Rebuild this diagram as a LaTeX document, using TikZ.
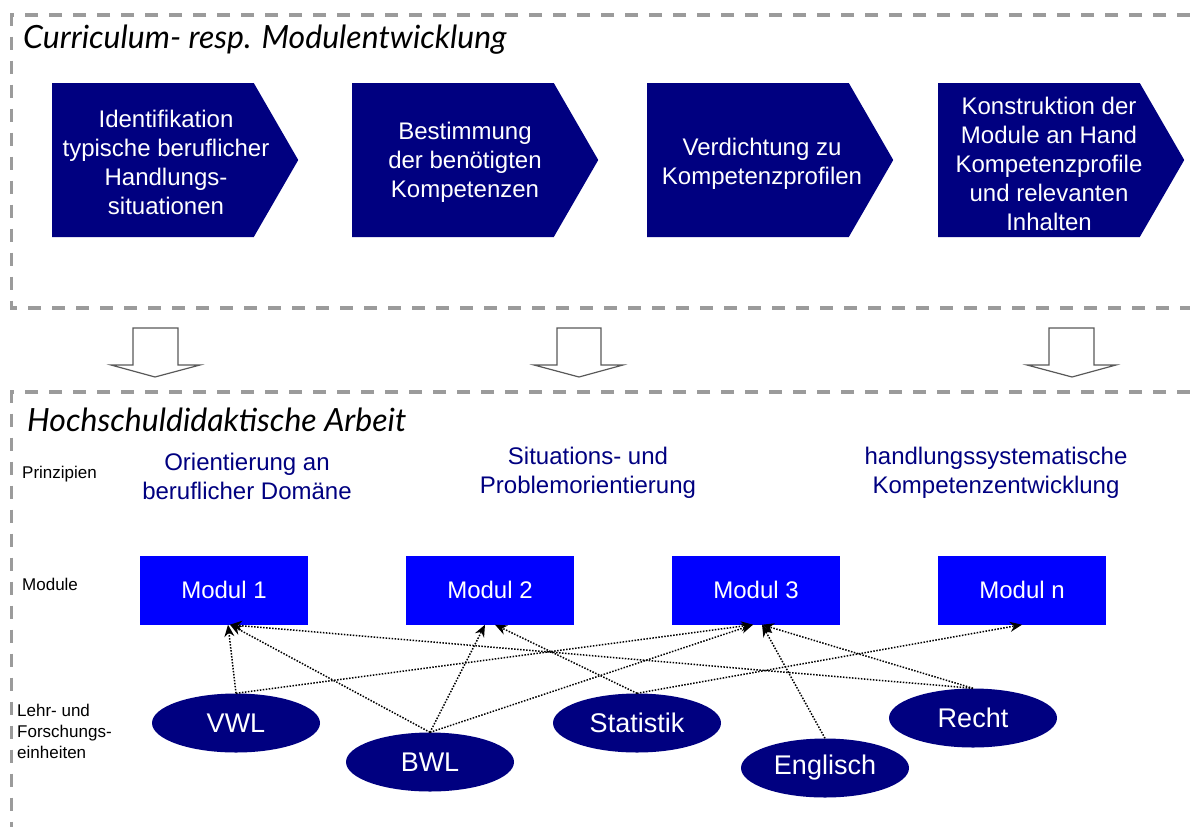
\documentclass[tikz,border=0pt]{standalone}
\usepackage{fontspec}
\setmainfont{Liberation Sans}
\newfontfamily\handfont{Lato}
\usepackage{tikz}
\usetikzlibrary{arrows.meta, shapes.symbols, shapes.geometric, positioning}
\definecolor{navy}{RGB}{0,0,128}
\definecolor{modblue}{RGB}{0,0,255}
\definecolor{framegray}{RGB}{155,155,155}
\tikzset{>={Stealth[length=12pt,width=10pt]}}

\begin{document}
\begin{tikzpicture}[x=1pt, y=-1pt,
    stepbox/.style={signal, signal to=east, signal pointer angle=120, fill=navy,
        minimum width=246pt, minimum height=154pt, inner sep=0pt},
    steptext/.style={text=white, align=center, inner sep=0pt, font=\fontsize{24}{29}\selectfont},
    modbox/.style={rectangle, fill=modblue, text=white, minimum width=168pt, minimum height=69pt,
        font=\fontsize{24}{29}\selectfont},
    fach/.style={ellipse, fill=navy, text=white, minimum width=168pt, minimum height=59pt, inner sep=0pt,
        font=\fontsize{27}{32}\selectfont},
    prinzip/.style={text=navy, align=center, font=\fontsize{24}{29}\selectfont},
    rowlabel/.style={anchor=west, align=left, inner sep=0pt, font=\fontsize{17}{21}\selectfont},
    headline/.style={anchor=west, inner sep=0pt, font=\handfont\itshape\fontsize{32}{36}\selectfont},
    dashframe/.style={draw=framegray, line width=3.3pt, dash pattern=on 13pt off 11pt},
    hollow/.style={draw=black!65, line width=1.2pt, fill=white},
    dotlink/.style={->, line width=1.5pt, dash pattern=on 1.5pt off 1.5pt}]

\useasboundingbox (0,0) rectangle (1190,827);

\draw[dashframe] (1190,15) -- (11.5,15) -- (11.5,308) -- (1190,308);
\draw[dashframe] (1190,392) -- (11.5,392) -- (11.5,827);

\node[headline] (h1) at (23,40) {Curriculum- resp. Modulentwicklung};
\node[headline] (h2) at (27,420) {Hochschuldidaktische Arbeit};

\node[stepbox] (s1) at (153,160) {};
\node[stepbox] (s2) at (453,160) {};
\node[stepbox] (s3) at (748,160) {};
\node[stepbox] (s4) at (1039,160) {};
\node[steptext] (s1t) at ([xshift=13pt,yshift=-2pt]s1.center) {Identifikation\\typische beruflicher\\Handlungs-\\situationen};
\node[steptext] (s2t) at ([xshift=12pt,yshift=-2pt]s2.center) {Bestimmung\\der benötigten\\Kompetenzen};
\node[steptext] (s3t) at ([xshift=14pt,yshift=-4pt]s3.center) {Verdichtung zu\\Kompetenzprofilen};
\node[steptext] (s4t) at ([xshift=10pt,yshift=-4pt]s4.center) {Konstruktion der\\Module an Hand\\Kompetenzprofile\\und relevanten\\Inhalten};

\draw[hollow] (133,328) -- (178,328) -- (178,365) -- (200,365) -- (155,377) -- (111,365) -- (133,365) -- cycle;
\draw[hollow] (557,328) -- (601,328) -- (601,365) -- (623,365) -- (579,377) -- (534,365) -- (557,365) -- cycle;
\draw[hollow] (1049,328) -- (1094,328) -- (1094,365) -- (1116,365) -- (1072,377) -- (1027,365) -- (1049,365) -- cycle;

\node[rowlabel] (l1) at (22,474) {Prinzipien};
\node[rowlabel] (l2) at (22,584) {Module};
\node[rowlabel] (l3) at (17,731) {Lehr- und\\Forschungs-\\einheiten};

\node[prinzip] (p1) at (247,476) {Orientierung an\\beruflicher Domäne};
\node[prinzip] (p2) at (588,473) {Situations- und\\Problemorientierung};
\node[prinzip] (p3) at (996,473) {handlungssystematische\\Kompetenzentwicklung};

\node[modbox] (m1) at (224,590) {Modul 1};
\node[modbox] (m2) at (490,590) {Modul 2};
\node[modbox] (m3) at (756,590) {Modul 3};
\node[modbox] (mn) at (1022,590) {Modul n};

\node[fach] (vwl) at (236,723) {VWL};
\node[fach] (bwl) at (430,762) {BWL};
\node[fach] (stat) at (637,723) {Statistik};
\node[fach] (engl) at (825,768) {Englisch};
\node[fach] (recht) at (973,718) {Recht};

\draw[dotlink] (vwl.north) -- ([xshift=4pt]m1.south);
\draw[dotlink] (bwl.north) -- ([xshift=6pt]m1.south);
\draw[dotlink] (recht.north) -- ([xshift=6pt]m1.south);
\draw[dotlink] (bwl.north) -- ([xshift=-5pt]m2.south);
\draw[dotlink] (stat.north) -- ([xshift=5pt]m2.south);
\draw[dotlink] (vwl.north) -- ([xshift=-3pt]m3.south);
\draw[dotlink] (bwl.north) -- ([xshift=-3pt]m3.south);
\draw[dotlink] (engl.north) -- ([xshift=6pt]m3.south);
\draw[dotlink] (recht.north) -- ([xshift=6pt]m3.south);
\draw[dotlink] (stat.north) -- (mn.south);
\end{tikzpicture}
\end{document}
